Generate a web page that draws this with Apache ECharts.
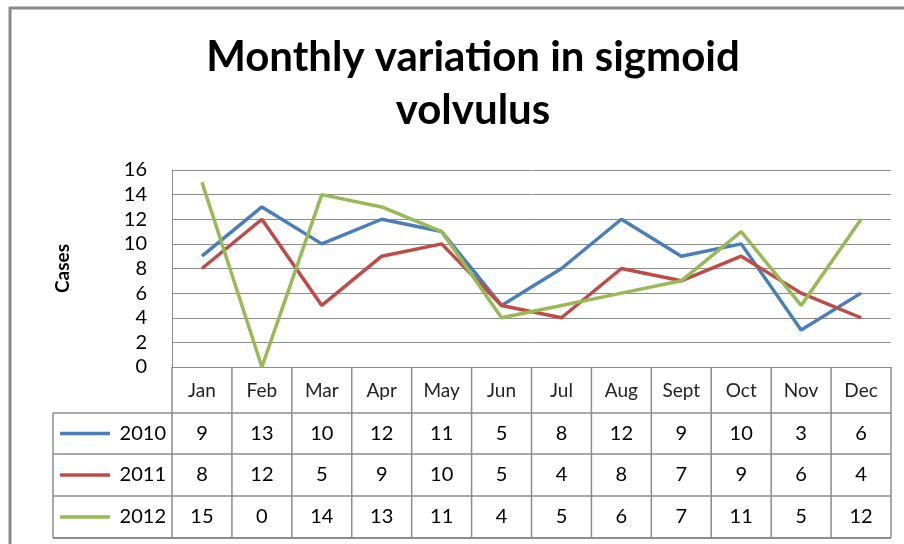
<!DOCTYPE html>
<html>
<head>
<meta charset="utf-8">
<script src="https://cdn.jsdelivr.net/npm/echarts@6/dist/echarts.min.js"></script>
<style>
  html, body { margin: 0; padding: 0; background: #fff; }
  #main { width: 904px; height: 544px; }
</style>
</head>
<body>
<div id="main"></div>
<script>
// data
var months = ['Jan', 'Feb', 'Mar', 'Apr', 'May', 'Jun', 'Jul', 'Aug', 'Sept', 'Oct', 'Nov', 'Dec'];
var years = ['2010', '2011', '2012'];
var cases2010 = [9, 13, 10, 12, 11, 5, 8, 12, 9, 10, 3, 6];
var cases2011 = [8, 12, 5, 9, 10, 5, 4, 8, 7, 9, 6, 4];
var cases2012 = [15, 0, 14, 13, 11, 4, 5, 6, 7, 11, 5, 12];
var yTicks = [0, 2, 4, 6, 8, 10, 12, 14, 16];

var colors = ['#4a7ebb', '#be4b48', '#98b954'];
var seriesData = [cases2010, cases2011, cases2012];
var font = 'Lato, "Open Sans", sans-serif';
var lineGray = '#8c8c8c';

var myChart = echarts.init(document.getElementById('main'));

var option = {
    animation: false,
    title: {
        text: 'Monthly variation in sigmoid\nvolvulus',
        left: 468,
        textAlign: 'center',
        top: 26,
        textStyle: { fontFamily: font, fontWeight: 'bold', fontSize: 42, lineHeight: 53, color: '#000' }
    },
    grid: { left: 172, right: 13, top: 170, bottom: 177 },
    xAxis: {
        type: 'category',
        data: months,
        boundaryGap: true,
        axisLine: { show: true, lineStyle: { color: lineGray, width: 1 } },
        axisTick: { show: false },
        axisLabel: { margin: 14, fontFamily: font, fontSize: 19, color: '#222', interval: 0 },
        splitLine: { show: false }
    },
    yAxis: {
        type: 'value',
        name: 'Cases',
        nameLocation: 'middle',
        nameGap: 100,
        nameRotate: 90,
        nameTextStyle: { fontFamily: font, fontSize: 19, fontWeight: 'bold', color: '#000' },
        min: yTicks[0],
        max: yTicks[yTicks.length - 1],
        interval: 2,
        axisLine: { show: true, lineStyle: { color: lineGray, width: 1 } },
        axisTick: { show: false },
        axisLabel: { margin: 25, fontFamily: font, fontSize: 20, color: '#000' },
        splitLine: { show: true, lineStyle: { color: lineGray, width: 1 } }
    },
    series: years.map(function (y, i) {
        return {
            name: y,
            type: 'line',
            data: seriesData[i],
            symbol: 'none',
            lineStyle: { color: colors[i], width: 3.5 },
            itemStyle: { color: colors[i] }
        };
    })
};

myChart.setOption(option);

// data table under the plot, placed from the category axis
var x0 = myChart.convertToPixel({ xAxisIndex: 0 }, 0);
var x1 = myChart.convertToPixel({ xAxisIndex: 0 }, 1);
var band = x1 - x0;
var yAxis0 = myChart.convertToPixel({ yAxisIndex: 0 }, 0);
var rowEdges = [yAxis0, yAxis0 + 46, yAxis0 + 87, yAxis0 + 129, yAxis0 + 171];
var tableLeft = 53;
var gridLeft = x0 - band / 2;
var gridRight = x0 + band * (months.length - 0.5);

var graphics = [];
// outer chart border
graphics.push({
    type: 'rect', shape: { x: 10, y: 8, width: 1000, height: 1000 },
    style: { fill: 'none', stroke: '#8a8a8a', lineWidth: 3 }, silent: true
});
// horizontal lines
for (var r = 1; r < rowEdges.length; r++) {
    graphics.push({
        type: 'line', shape: { x1: tableLeft, y1: rowEdges[r], x2: gridRight, y2: rowEdges[r] },
        style: { stroke: lineGray, lineWidth: r === rowEdges.length - 1 ? 2 : 1.5 }, silent: true
    });
}
// vertical lines
graphics.push({
    type: 'line', shape: { x1: tableLeft, y1: rowEdges[1], x2: tableLeft, y2: rowEdges[4] },
    style: { stroke: lineGray, lineWidth: 1.5 }, silent: true
});
for (var k = 0; k <= months.length; k++) {
    var xv = gridLeft + band * k;
    graphics.push({
        type: 'line', shape: { x1: xv, y1: rowEdges[0], x2: xv, y2: rowEdges[4] },
        style: { stroke: lineGray, lineWidth: 1.5 }, silent: true
    });
}
// rows
for (var i = 0; i < years.length; i++) {
    var cy = (rowEdges[i + 1] + rowEdges[i + 2]) / 2;
    graphics.push({
        type: 'line', shape: { x1: 60, y1: cy, x2: 110, y2: cy },
        style: { stroke: colors[i], lineWidth: 3.5 }, silent: true
    });
    graphics.push({
        type: 'text', x: 166, y: cy,
        style: { text: years[i], fontFamily: font, fontSize: 20, fill: '#000', align: 'right', verticalAlign: 'middle' },
        silent: true
    });
    for (var j = 0; j < months.length; j++) {
        graphics.push({
            type: 'text', x: myChart.convertToPixel({ xAxisIndex: 0 }, j), y: cy,
            style: { text: String(seriesData[i][j]), fontFamily: font, fontSize: 20, fill: '#000', align: 'center', verticalAlign: 'middle' },
            silent: true
        });
    }
}
myChart.setOption({ graphic: graphics });
</script>
</body>
</html>
